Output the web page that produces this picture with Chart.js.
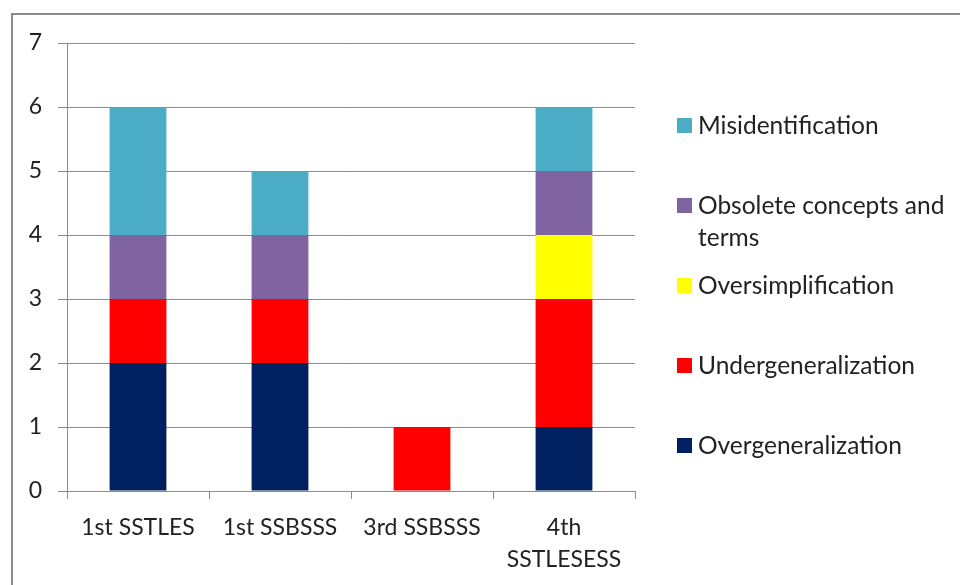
<!DOCTYPE html>
<html>
<head>
<meta charset="utf-8">
<script src="https://cdn.jsdelivr.net/npm/chart.js@4/dist/chart.umd.min.js"></script>
<style>
  html, body { margin: 0; padding: 0; background: #fff; overflow: hidden; }
  #wrap { position: relative; width: 960px; height: 585px; }
  #frame { position: absolute; left: 11px; top: 13px; width: 1000px; height: 1000px; border: 2px solid #8c8c8c; box-sizing: border-box; }
  #chart { position: absolute; left: 0; top: 0; }
  #legend { position: absolute; left: 677px; top: 109px; width: 275px; font-family: Lato, "Open Sans", sans-serif; font-size: 24.5px; color: #222; }
  #legend .item { display: flex; align-items: flex-start; height: 80px; line-height: 32px; }
  #legend .box { width: 15px; height: 15px; margin-top: 9px; margin-right: 6px; flex: none; }
</style>
</head>
<body>
<div id="wrap">
  <div id="frame"></div>
  <canvas id="chart" width="960" height="585"></canvas>
  <div id="legend"></div>
</div>
<script>
(function () {
  "use strict";

  var categories = ["1st SSTLES", "1st SSBSSS", "3rd SSBSSS", ["4th", "SSTLESESS"]];
  var overgeneralization = [2, 2, 0, 1];
  var undergeneralization = [1, 1, 1, 2];
  var oversimplification = [0, 0, 0, 1];
  var obsolete = [1, 1, 0, 1];
  var misidentification = [2, 1, 0, 1];
  var yTicks = [0, 1, 2, 3, 4, 5, 6, 7];

  var FONT = "Lato, 'Open Sans', sans-serif";
  var GRID = "#8c8c8c";

  var datasets = [
    { label: "Overgeneralization", data: overgeneralization, backgroundColor: "#002060" },
    { label: "Undergeneralization", data: undergeneralization, backgroundColor: "#ff0000" },
    { label: "Oversimplification", data: oversimplification, backgroundColor: "#ffff00" },
    { label: "Obsolete concepts and terms", data: obsolete, backgroundColor: "#8064a2" },
    { label: "Misidentification", data: misidentification, backgroundColor: "#4bacc6" }
  ];
  datasets.forEach(function (d) {
    d.barPercentage = 0.4;
    d.categoryPercentage = 1;
    d.borderWidth = 0;
  });

  new Chart(document.getElementById("chart"), {
    type: "bar",
    data: { labels: categories, datasets: datasets },
    options: {
      responsive: false,
      animation: false,
      layout: { padding: { left: 0, right: 325, top: 43, bottom: 0 } },
      plugins: { legend: { display: false }, tooltip: { enabled: false } },
      scales: {
        x: {
          stacked: true,
          grid: { drawOnChartArea: false, drawTicks: true, tickLength: 8, color: GRID, offset: true },
          border: { color: GRID, width: 1 },
          ticks: { color: "#222", padding: 12, font: { family: FONT, size: 23, lineHeight: 1.4 } },
          afterFit: function (s) { s.height = 94; }
        },
        y: {
          stacked: true,
          min: 0,
          max: 7,
          afterBuildTicks: function (s) { s.ticks = yTicks.map(function (v) { return { value: v }; }); },
          grid: { color: GRID, tickLength: 9, drawTicks: true },
          border: { color: GRID, width: 1 },
          ticks: { color: "#222", padding: 16, font: { family: FONT, size: 23 } },
          afterFit: function (s) { s.width = 67; }
        }
      }
    }
  });

  var legend = document.getElementById("legend");
  datasets.slice().reverse().forEach(function (d) {
    var item = document.createElement("div");
    item.className = "item";
    var box = document.createElement("span");
    box.className = "box";
    box.style.background = d.backgroundColor;
    var text = document.createElement("span");
    text.textContent = d.label;
    item.appendChild(box);
    item.appendChild(text);
    legend.appendChild(item);
  });
})();
</script>
</body>
</html>
